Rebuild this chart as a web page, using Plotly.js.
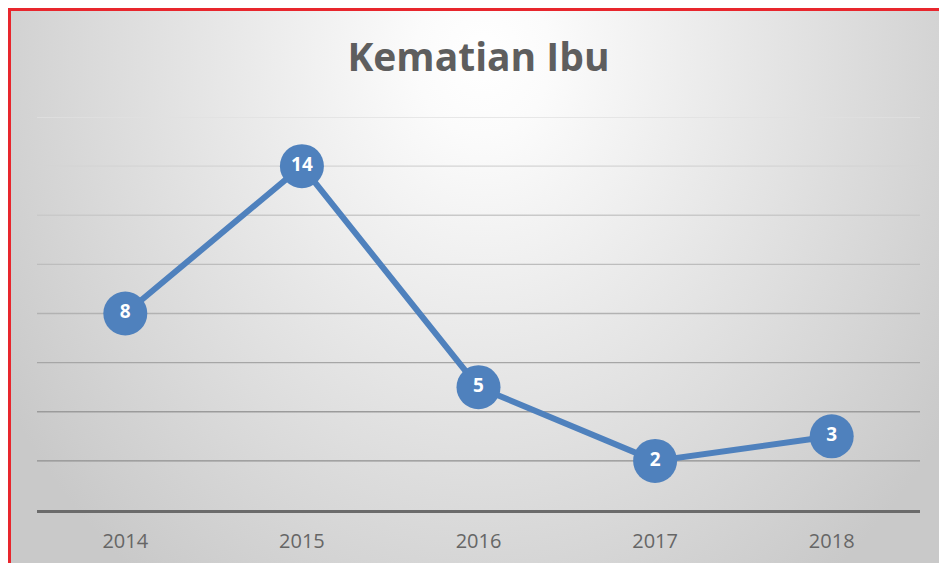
<!DOCTYPE html>
<html>
<head>
<meta charset="utf-8">
<script src="https://cdn.plot.ly/plotly-3.0.1.min.js"></script>
<style>
  html, body { margin: 0; padding: 0; width: 939px; height: 563px; overflow: hidden; background: #ffffff; }
  #bg {
    position: absolute; left: 8px; top: 8px; width: 960px; height: 600px;
    border: 3px solid #e8262d; box-sizing: border-box;
    background: radial-gradient(ellipse 560px 660px at 472px 45px, #ffffff 0%, #fbfbfb 12%, #c9c9c9 100%);
  }
  #chart { position: absolute; left: 0; top: 0; width: 939px; height: 563px; }
</style>
</head>
<body>
<div id="bg"></div>
<div id="chart"></div>
<script>
const years = ['2014', '2015', '2016', '2017', '2018'];
const deaths = [8, 14, 5, 2, 3];
const gridValues = [2, 4, 6, 8, 10, 12, 14, 16];
const chartTitle = 'Kematian Ibu';

function gridColor(v) {
  // gridlines fade from darker (bottom) to lighter (top)
  const t = (v - 2) / 14;
  const c = Math.round(143 + t * (224 - 143));
  return 'rgb(' + c + ',' + c + ',' + c + ')';
}

const shapes = gridValues.map(v => ({
  type: 'line', xref: 'paper', yref: 'y', x0: 0, x1: 1, y0: v, y1: v,
  line: { color: gridColor(v), width: 1.3 }, layer: 'below'
}));

const trace = {
  x: years,
  y: deaths,
  type: 'scatter',
  mode: 'lines+markers+text',
  text: deaths.map(String),
  textposition: 'middle center',
  textfont: { family: 'Open Sans, Liberation Sans, sans-serif', size: 19, color: '#ffffff', weight: 'bold' },
  line: { color: '#4f81bd', width: 6 },
  marker: { color: '#4f81bd', size: 44, line: { width: 0 } },
  cliponaxis: false,
  hoverinfo: 'x+y'
};

const layout = {
  width: 939, height: 563,
  margin: { l: 37, r: 19, t: 117, b: 53 },
  paper_bgcolor: 'rgba(0,0,0,0)',
  plot_bgcolor: 'rgba(0,0,0,0)',
  showlegend: false,
  title: {
    text: '<b>' + chartTitle + '</b>',
    font: { family: 'Open Sans, Liberation Sans, sans-serif', size: 39, color: '#5e5e5e' },
    xref: 'paper', x: 0.5, xanchor: 'center',
    yref: 'container', y: 1 - 57 / 563, yanchor: 'middle'
  },
  xaxis: {
    type: 'category',
    range: [-0.5, 4.5],
    showgrid: false,
    zeroline: false,
    showline: true, linecolor: '#6b6b6b', linewidth: 3,
    ticks: '',
    ticklabelstandoff: 11,
    tickfont: { family: 'Open Sans, Liberation Sans, sans-serif', size: 20, color: '#666666' },
    fixedrange: true
  },
  yaxis: {
    range: [0, 16],
    showgrid: false,
    zeroline: false,
    showticklabels: false,
    ticks: '',
    fixedrange: true
  },
  shapes: shapes
};

Plotly.newPlot('chart', [trace], layout, { displayModeBar: false, staticPlot: true });
</script>
</body>
</html>
